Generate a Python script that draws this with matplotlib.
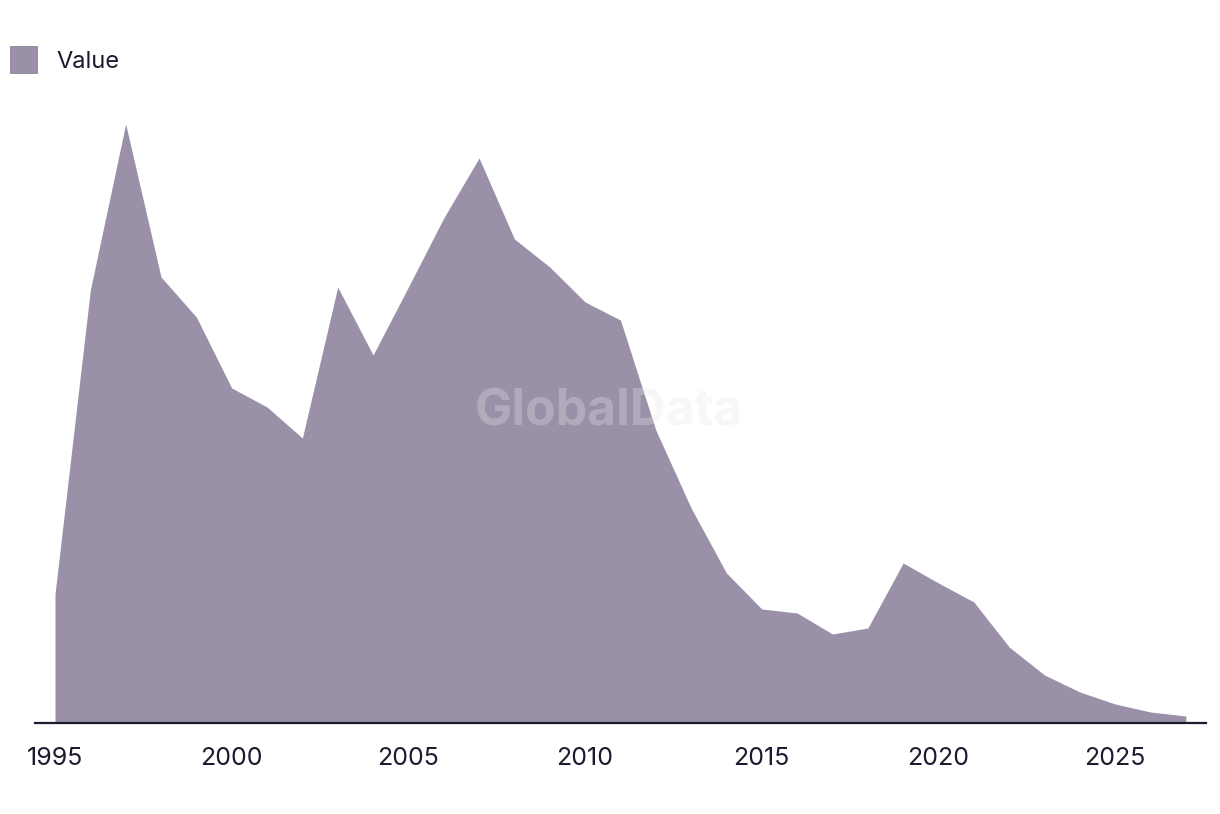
import matplotlib
matplotlib.use('Agg')
import matplotlib.pyplot as plt
from matplotlib.patches import Patch

plt.rcParams['font.family'] = ['Inter', 'DejaVu Sans']

# values (arbitrary units)
years = list(range(1995, 2028))
values = [129, 433, 599, 446, 406, 335, 316, 285, 436, 368, 436, 505, 565,
          484, 456, 421, 403, 293, 215, 150, 114, 110, 89, 95, 160, 140,
          121, 76, 48, 31, 19, 11, 7]
tick_years = [1995, 2000, 2005, 2010, 2015, 2020, 2025]

fill_color = '#9a91a9'
text_color = '#1b1a2e'

fig = plt.figure(figsize=(12.2, 8.14), dpi=100)
ax = fig.add_axes([35 / 1220, 1 - 723 / 814, (1206 - 35) / 1220, 623 / 814])

ax.fill_between(years, values, 0, color=fill_color, linewidth=0)

ax.set_xlim(1995 - 20 / 35.34, 1995 + (1206 - 55) / 35.34)
ax.set_ylim(0, 623)

for side in ['top', 'right', 'left']:
    ax.spines[side].set_visible(False)
ax.spines['bottom'].set_color(text_color)
ax.spines['bottom'].set_linewidth(1.6)
ax.set_yticks([])
ax.set_xticks(tick_years)
ax.set_xticklabels([str(y) for y in tick_years], fontsize=18, color=text_color)
ax.tick_params(axis='x', length=0, pad=17)

# watermark
ax.text(0.49, 0.50, 'GlobalData', transform=ax.transAxes, ha='center', va='center',
        fontsize=36, fontweight='bold', color='#e6e6e6', alpha=0.3, zorder=5)

handles = [Patch(facecolor=fill_color, edgecolor='none', label='Value')]
fig.legend(handles=handles, loc='upper left', bbox_to_anchor=(10 / 1220, 1 - 46 / 814),
           frameon=False, fontsize=17, labelcolor=text_color,
           borderaxespad=0, borderpad=0,
           handlelength=1.2, handleheight=1.45, handletextpad=0.75)

plt.savefig('out.png', dpi=100)
plt.close()
